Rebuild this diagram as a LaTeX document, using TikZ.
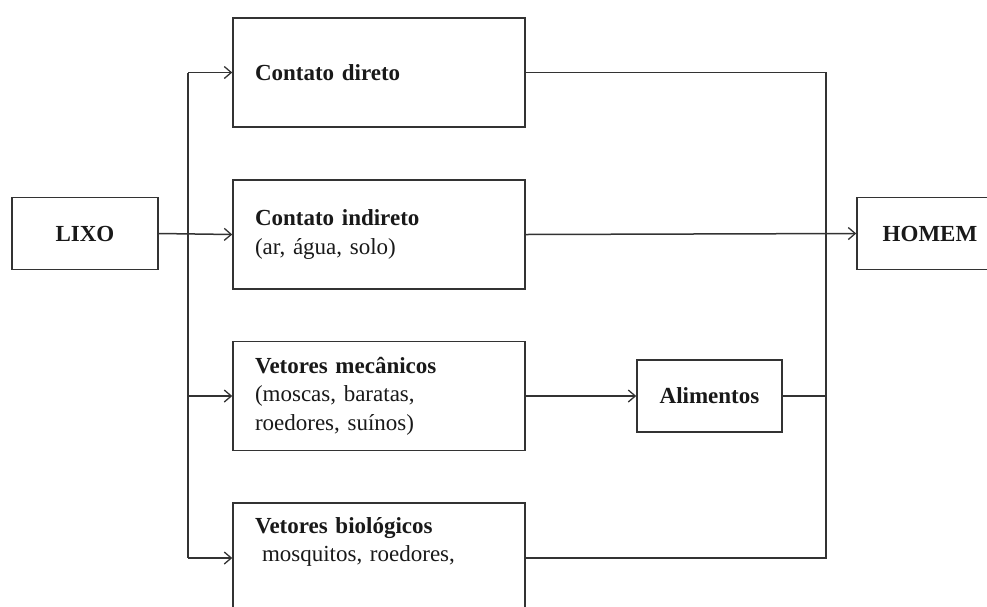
\documentclass[tikz,border=0pt]{standalone}
\usepackage{fontspec}
\setmainfont{Liberation Serif}
\usetikzlibrary{arrows.meta}
\definecolor{ln}{HTML}{333333}
\tikzset{
  x=1pt, y=-1pt,
  txt/.style={font=\fontsize{23}{28.5}\selectfont, text=black!90},
  bigbox/.style={txt, draw=ln, line width=1.5pt, rectangle, minimum width=292pt, minimum height=109pt,
     text width=248pt, inner xsep=22pt, inner ysep=0pt, align=left},
  smallbox/.style={txt, draw=ln, line width=1.5pt, rectangle, minimum height=72pt, inner sep=0pt, font=\fontsize{23}{28.5}\selectfont\bfseries},
  conn/.style={draw=ln, line width=1.5pt},
  arr/.style={conn, -{Straight Barb[length=7pt,width=12pt,line width=1.3pt]}}
}
\begin{document}
\begin{tikzpicture}
\useasboundingbox (0,0) rectangle (987,606);
\clip (0,0) rectangle (987,606);
\fill[white] (0,0) rectangle (987,606);

\node[smallbox, minimum width=146pt] (lixo) at (85,233.5) {LIXO};
\node[smallbox, minimum width=146pt] (homem) at (930,233.5) {HOMEM};

\node[bigbox] (cd) at (379,72.5) {\textbf{Contato direto}};
\node[bigbox] (ci) at (379,234.5) {\textbf{Contato indireto}\\(ar, água, solo)};
\node[bigbox] (vm) at (379,396) {\textbf{Vetores mecânicos}\\(moscas, baratas,\\roedores, suínos)};
\node[bigbox, minimum height=110pt] (vb) at (379,558) {\textbf{Vetores biológicos}\\\hspace*{7pt}mosquitos, roedores,\\\strut};

\node[smallbox, minimum width=145pt] (ali) at (709.5,396) {Alimentos};

% trunk on the left
\coordinate (tt) at (188,72.5);
\coordinate (tb) at (188,558);
\draw[conn] (tt) -- (tb);
\draw[arr] (tt) -- (cd.west);
\draw[arr] (tt |- vm.west) -- (vm.west);
\draw[arr] (tb) -- (vb.west);
\draw[arr] (lixo.east) -- (ci.west);

% right collector
\coordinate (rt) at (826,72.5);
\coordinate (rb) at (826,558);
\draw[conn] (cd.east) -- (rt) -- (rb) -- (vb.east);
\draw[conn] (ali.east) -- (rt |- ali.east);
\draw[arr] (vm.east) -- (ali.west);
\draw[arr] (ci.east) -- (homem.west);
\end{tikzpicture}
\end{document}
